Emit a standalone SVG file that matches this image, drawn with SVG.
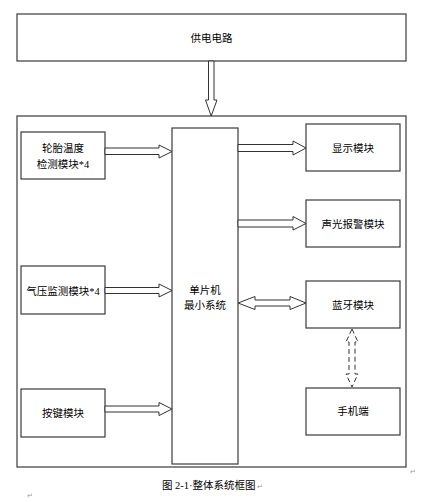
<svg xmlns="http://www.w3.org/2000/svg" width="430" height="502" viewBox="0 0 430 502">
<style>
.box{fill:#fff;stroke:#3a3a3a;stroke-width:1.2}
.arr{fill:#fff;stroke:#333;stroke-width:1}
.dash{fill:none;stroke:#333;stroke-width:1;stroke-dasharray:5 3}
.t{font-family:"Liberation Serif","Noto Sans CJK SC",serif;font-size:10.5px;fill:#000;text-anchor:middle}
.cap{font-family:"Liberation Serif","Noto Sans CJK SC",serif;font-size:10.5px;fill:#000}
.mark{font-family:"DejaVu Sans",sans-serif;font-size:7px;fill:#999}
</style>
<rect width="430" height="502" fill="#fff"/>
<g id="outer"><rect class="box" x="17" y="116" width="389" height="351"/></g>
<g id="power"><rect class="box" x="17" y="14" width="389" height="47"/><text class="t" x="211.5" y="42">供电电路</text></g>
<g id="tire"><rect class="box" x="21" y="132" width="84" height="47"/><text class="t" x="63" y="152">轮胎温度</text><text class="t" x="63" y="168">检测模块*4</text></g>
<g id="pressure"><rect class="box" x="21" y="266" width="84" height="48"/><text class="t" x="63" y="295">气压监测模块*4</text></g>
<g id="key"><rect class="box" x="21" y="389" width="84" height="48"/><text class="t" x="63" y="417">按键模块</text></g>
<g id="mcu"><rect class="box" x="172" y="128" width="66" height="336"/><text class="t" x="205" y="294">单片机</text><text class="t" x="205" y="309">最小系统</text></g>
<g id="display"><rect class="box" x="306" y="124" width="94" height="47"/><text class="t" x="353" y="152">显示模块</text></g>
<g id="alarm"><rect class="box" x="306" y="200" width="94" height="47"/><text class="t" x="353" y="228">声光报警模块</text></g>
<g id="bt"><rect class="box" x="306" y="281" width="94" height="47"/><text class="t" x="353" y="309">蓝牙模块</text></g>
<g id="phone"><rect class="box" x="306" y="388" width="94" height="47"/><text class="t" x="353" y="415">手机端</text></g>
<g id="connectors">
<polygon class="arr" points="208.5,61 214,61 214,100 217,100 211.2,116 205.5,100 208.5,100"/>
<polygon class="arr" points="105,148 159,148 159,145 172,151.5 159,158 159,154.5 105,154.5"/>
<polygon class="arr" points="105,287.5 159,287.5 159,284 172,290.5 159,297 159,293.5 105,293.5"/>
<polygon class="arr" points="105,406 159,406 159,402.5 172,409 159,415.5 159,412 105,412"/>
<polygon class="arr" points="238,144.5 293,144.5 293,141 306,148 293,155 293,151.5 238,151.5"/>
<polygon class="arr" points="238,220 293,220 293,216.5 306,223.5 293,230 293,227 238,227"/>
<polygon class="arr" points="238,303 255,296.5 255,300 290,300 290,296.5 306,303 290,309.5 290,306 255,306 255,309.5"/>
<polygon class="dash" points="352,329 358,342 355,342 355,374 358,374 352,387 346,374 349,374 349,342 346,342"/>
</g>
<text class="cap" x="162" y="489">图 2-1·整体系统框图</text>
<text class="mark" x="257" y="489">↵</text>
<text class="mark" x="410" y="474">↵</text>
<text class="mark" x="27" y="498">↵</text>
</svg>
